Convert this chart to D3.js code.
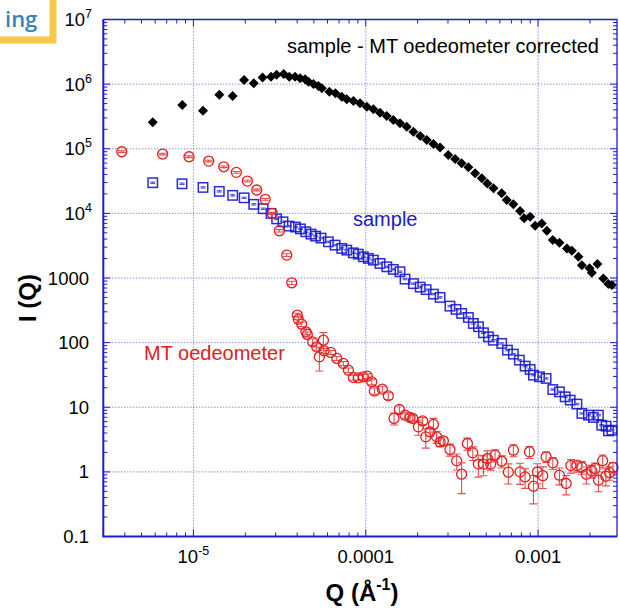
<!DOCTYPE html>
<html><head><meta charset="utf-8">
<script src="https://cdn.jsdelivr.net/npm/d3@7"></script>
<style>body{margin:0;background:#fff}svg{display:block}</style>
</head><body><svg id="c" width="619" height="615"></svg>
<script>
// ---- data ----
const correctedQ = [5.81e-6,8.62e-6,1.137e-5,1.413e-5,1.69e-5,1.967e-5,2.24e-5,2.52e-5,2.82e-5,3.04e-5,3.34e-5,3.60e-5,3.89e-5,4.16e-5,4.45e-5,4.65e-5,4.97e-5,5.31e-5,5.56e-5,6.15e-5,6.67e-5,7.26e-5,7.76e-5,8.48e-5,9.27e-5,1.014e-4,1.107e-4,1.21e-4,1.324e-4,1.445e-4,1.58e-4,1.73e-4,1.89e-4,2.07e-4,2.26e-4,2.47e-4,2.70e-4,3.01e-4,3.30e-4,3.60e-4,3.94e-4,4.31e-4,4.71e-4,5.08e-4,5.51e-4,6.15e-4,6.58e-4,7.19e-4,7.86e-4,8.30e-4,8.99e-4,9.61e-4,1.05e-3,1.124e-3,1.217e-3,1.33e-3,1.47e-3,1.57e-3,1.715e-3,1.795e-3,1.99e-3,2.05e-3,2.21e-3,2.39e-3,2.56e-3,2.68e-3];
const correctedI = [2.56e5,4.75e5,3.87e5,6.85e5,6.55e5,1.156e6,1.03e6,1.27e6,1.30e6,1.40e6,1.43e6,1.30e6,1.30e6,1.23e6,1.19e6,1.09e6,1.00e6,9.35e5,8.61e5,7.62e5,7.21e5,6.38e5,5.82e5,5.47e5,5.05e5,4.47e5,4.07e5,3.61e5,3.21e5,2.78e5,2.47e5,2.19e5,1.83e5,1.57e5,1.36e5,1.18e5,1.05e5,7.98e4,6.93e4,5.95e4,5.15e4,4.16e4,3.48e4,2.91e4,2.44e4,2.04e4,1.61e4,1.38e4,1.09e4,8370,8850,6430,7000,5380,3860,3510,2870,2640,2130,1580,1410,1210,1640,986,805,777];

const sampleQ = [5.81e-6,8.59e-6,1.137e-5,1.413e-5,1.69e-5,1.97e-5,2.24e-5,2.54e-5,2.82e-5,3.04e-5,3.31e-5,3.59e-5,3.91e-5,4.18e-5,4.49e-5,4.81e-5,5.11e-5,5.50e-5,6.07e-5,6.64e-5,7.26e-5,7.76e-5,8.47e-5,9.06e-5,9.68e-5,1.035e-4,1.107e-4,1.21e-4,1.325e-4,1.445e-4,1.58e-4,1.69e-4,1.89e-4,2.07e-4,2.24e-4,2.47e-4,2.70e-4,3.08e-4,3.34e-4,3.60e-4,3.94e-4,4.21e-4,4.51e-4,4.82e-4,5.15e-4,5.50e-4,6.15e-4,6.64e-4,7.19e-4,7.79e-4,8.41e-4,8.99e-4,9.40e-4,1.019e-3,1.113e-3,1.217e-3,1.33e-3,1.436e-3,1.535e-3,1.68e-3,1.795e-3,1.96e-3,2.095e-3,2.24e-3,2.34e-3,2.48e-3,2.56e-3,2.68e-3];
const sampleI = [2.98e4,2.87e4,2.52e4,2.19e4,1.90e4,1.74e4,1.38e4,1.18e4,1.00e4,8220,7410,6360,6140,5750,5190,4780,4450,4150,3630,3230,2870,2700,2450,2340,2130,2010,1890,1680,1490,1360,1250,962,819,723,661,563,501,367,327,283,245,198,176,142,123,109,97.2,76.6,66.4,53.6,43.3,38.5,31.4,29.6,27.9,18.8,17.3,14.5,12.9,11.2,8.02,7.55,6.95,7.55,5.28,5.10,4.31,4.42];
const sampleErr = [750,720,630,550,480,440,350,300,250,210,190,160,150,145,130,120,110,105,90,80,72,68,61,59,53,50,47,42,37,34,31,24,20,18,16.5,14,12.5,9.2,8.2,7.1,6.1,5,4.4,3.6,3.1,2.7,2.4,1.9,1.7,1.3,1.1,0.96,0.79,0.74,0.7,0.47,0.43,0.36,0.32,0.28,0.2,0.19,0.17,0.19,0.13,0.13,0.11,0.11];

const mtQ = [3.84e-6,6.63e-6,9.43e-6,1.227e-5,1.50e-5,1.774e-5,2.055e-5,2.33e-5,2.61e-5,2.87e-5,3.15e-5,3.48e-5,3.72e-5,4.01e-5,4.06e-5,4.25e-5,4.50e-5,4.58e-5,4.92e-5,5.19e-5,5.38e-5,5.68e-5,5.73e-5,6.27e-5,6.79e-5,7.41e-5,7.93e-5,8.47e-5,9.06e-5,9.68e-5,1.021e-4,1.084e-4,1.122e-4,1.248e-4,1.352e-4,1.459e-4,1.567e-4,1.69e-4,1.807e-4,1.875e-4,2.02e-4,2.14e-4,2.23e-4,2.36e-4,2.47e-4,2.58e-4,2.70e-4,2.82e-4,3.08e-4,3.37e-4,3.60e-4,3.89e-4,4.18e-4,4.50e-4,4.82e-4,5.08e-4,5.31e-4,5.63e-4,6.15e-4,6.72e-4,7.19e-4,7.86e-4,8.41e-4,8.91e-4,9.40e-4,9.91e-4,1.065e-3,1.113e-3,1.217e-3,1.33e-3,1.455e-3,1.55e-3,1.68e-3,1.795e-3,1.905e-3,2.05e-3,2.14e-3,2.24e-3,2.37e-3,2.47e-3,2.60e-3,2.72e-3];
const mtI = [8.99e4,8.28e4,7.52e4,6.45e4,5.26e4,4.31e4,3.16e4,2.30e4,1.65e4,1.00e4,5380,2260,843,267,229,193,147,134,103,86.1,60.3,109,74.6,70.5,56.9,47.6,37.5,28.9,28.5,29.6,30.3,24.7,17.9,19.1,15.0,6.71,9.25,7.55,6.95,6.71,4.98,6.15,3.48,4.16,5.42,3.48,2.91,3.02,2.22,1.48,0.92,2.75,1.97,1.32,1.32,1.61,1.32,1.81,1.46,0.99,2.17,1.00,0.836,2.04,0.60,0.995,0.873,1.71,1.38,0.889,0.661,1.25,1.25,1.18,0.92,1.03,1.13,0.743,1.49,0.857,0.972,1.17];
const mtErr = [2700,2500,2300,1900,1600,1300,950,700,500,350,220,110,50,18,25,15,15,12,12,10,24,34,7,5,4,3.5,3,2.5,2.5,2.5,2.5,2.5,2,2,1.8,1.4,1.3,0.8,0.8,0.7,1.3,0.75,1.15,0.6,1.3,0.73,0.45,0.45,0.47,0.41,0.46,0.58,0.47,0.49,0.45,0.5,0.26,0.38,0.31,0.34,0.46,0.36,0.28,0.43,0.28,0.34,0.32,0.31,0.29,0.26,0.22,0.30,0.26,0.26,0.27,0.23,0.24,0.25,0.33,0.25,0.23,0.22];

const yTickVals = [0.1,1,10,100,1000,1e4,1e5,1e6,1e7];
const yTickLabels = ["0.1","1","10","100","1000","10^4","10^5","10^6","10^7"];
const xTickVals = [1e-5,1e-4,1e-3];
const xTickLabels = ["10^-5","0.0001","0.001"];

// ---- chart ----
const svg = d3.select("#c");
const FONT = "'Liberation Sans', Arial, Helvetica, sans-serif";
const L = 103.3, R = 617, T = 19.5, B = 536.5;
const x = d3.scaleLog().domain([3e-6, 2.87e-3]).range([L, R]);
const y = d3.scaleLog().domain([0.1, 1e7]).range([B, T]);
const AX = "#1c1cd8";

// logo fragment top-left
svg.append("path").attr("d","M53,0 V40 H0").attr("fill","none").attr("stroke","#f8c948").attr("stroke-width",7);
svg.append("text").attr("x",5).attr("y",27).attr("font-family","'Open Sans', sans-serif")
  .attr("font-weight",600).attr("font-size",22).attr("fill","#3a82b6").text("ing");

// gridlines
const grid = svg.append("g").attr("stroke","#5a5ae6").attr("stroke-width",1).attr("stroke-dasharray","1,2");
yTickVals.filter(v => v > 0.1 && v < 1e7).forEach(v => {
  grid.append("line").attr("x1",L).attr("x2",R).attr("y1",y(v)).attr("y2",y(v));
});
xTickVals.forEach(v => {
  grid.append("line").attr("y1",T).attr("y2",B).attr("x1",x(v)).attr("x2",x(v));
});

// ticks
const tk = svg.append("g").attr("stroke",AX).attr("stroke-width",1);
const isMajor = v => Math.abs(Math.log10(v) - Math.round(Math.log10(v))) < 1e-6;
y.ticks().forEach(v => {
  const len = isMajor(v) ? 7 : 4, yy = y(v);
  tk.append("line").attr("x1",L).attr("x2",L+len).attr("y1",yy).attr("y2",yy);
  tk.append("line").attr("x1",R).attr("x2",R-len).attr("y1",yy).attr("y2",yy);
});
x.ticks().forEach(v => {
  const len = isMajor(v) ? 7 : 4, xx = x(v);
  tk.append("line").attr("y1",B).attr("y2",B-len).attr("x1",xx).attr("x2",xx);
  tk.append("line").attr("y1",T).attr("y2",T+len).attr("x1",xx).attr("x2",xx);
});

// sample (blue squares with small error bars)
const sq = svg.append("g");
sampleQ.forEach((q,i) => {
  const cx = x(q), cy = y(sampleI[i]);
  const y1 = y(sampleI[i] + sampleErr[i]), y2 = y(sampleI[i] - sampleErr[i]);
  sq.append("path").attr("d",`M${cx},${y1}V${y2}M${cx-2.5},${y1}H${cx+2.5}M${cx-2.5},${y2}H${cx+2.5}`)
    .attr("stroke","#4b4bd8").attr("stroke-width",1).attr("fill","none");
  sq.append("rect").attr("x",cx-4.7).attr("y",cy-4.7).attr("width",9.4).attr("height",9.4)
    .attr("fill","none").attr("stroke","#1414d4").attr("stroke-width",1.5).attr("stroke-opacity",0.9);
});

// MT oedeometer (red circles with error bars)
const rc = svg.append("g");
mtQ.forEach((q,i) => {
  const cx = x(q), cy = y(mtI[i]);
  const y1 = y(mtI[i] + mtErr[i]), y2 = y(Math.max(mtI[i] - mtErr[i], 0.01));
  rc.append("path").attr("d",`M${cx},${y1}V${y2}M${cx-4},${y1}H${cx+4}M${cx-4},${y2}H${cx+4}`)
    .attr("stroke","#e25050").attr("stroke-width",1.1).attr("fill","none");
  rc.append("circle").attr("cx",cx).attr("cy",cy).attr("r",5)
    .attr("fill","none").attr("stroke","#e41c1c").attr("stroke-width",1.3);
});

// corrected (black diamonds)
const dia = d3.symbol().type(d3.symbolSquare).size(50);
svg.append("g").selectAll("path").data(correctedQ).join("path")
  .attr("d", dia)
  .attr("transform",(q,i) => `translate(${x(q)},${y(correctedI[i])}) rotate(45)`)
  .attr("fill","#000");

// frame
svg.append("path").attr("d",`M${L},${T}H${R}V${B}`).attr("fill","none").attr("stroke",AX).attr("stroke-width",1.3);
svg.append("path").attr("d",`M${L},${T}V${B}H${R}`).attr("fill","none").attr("stroke",AX).attr("stroke-width",2);

// tick labels
function supText(sel, label, baseSize, supSize, supDy) {
  const parts = label.split("^");
  sel.append("tspan").text(parts[0]);
  if (parts[1]) sel.append("tspan").attr("font-size",supSize).attr("dy",supDy).text(parts[1]);
}
yTickVals.forEach((v,i) => {
  const lab = yTickLabels[i];
  const t = svg.append("text").attr("x", lab.includes("^") ? 92 : 89).attr("y", y(v)+6.5)
    .attr("text-anchor","end").attr("font-family",FONT).attr("font-size",18.5).attr("fill","#000");
  supText(t, lab, 18.5, 12.5, -8);
});
xTickVals.forEach((v,i) => {
  const t = svg.append("text").attr("x", x(v)).attr("y", 563)
    .attr("text-anchor","middle").attr("font-family",FONT).attr("font-size",18.5).attr("fill","#000");
  supText(t, xTickLabels[i], 18.5, 12.5, -8);
});

// axis titles
svg.append("text").attr("transform","translate(36,298) rotate(-90)").attr("text-anchor","middle")
  .attr("font-family",FONT).attr("font-weight","bold").attr("font-size",24).text("I (Q)");
const xt = svg.append("text").attr("x",362).attr("y",601).attr("text-anchor","middle")
  .attr("font-family",FONT).attr("font-weight","bold").attr("font-size",24);
xt.append("tspan").text("Q (Å");
xt.append("tspan").attr("font-size",16).attr("dy",-11).text("-1");
xt.append("tspan").attr("dy",11).text(")");

// annotations
svg.append("text").attr("x",287).attr("y",53).attr("font-family",FONT).attr("font-size",20).attr("fill","#000")
  .text("sample - MT oedeometer corrected");
svg.append("text").attr("x",353).attr("y",225.5).attr("font-family",FONT).attr("font-size",20).attr("fill","#1a1ad0")
  .text("sample");
svg.append("text").attr("x",144).attr("y",360).attr("font-family",FONT).attr("font-size",20).attr("fill","#e02020")
  .text("MT oedeometer");
</script></body></html>
